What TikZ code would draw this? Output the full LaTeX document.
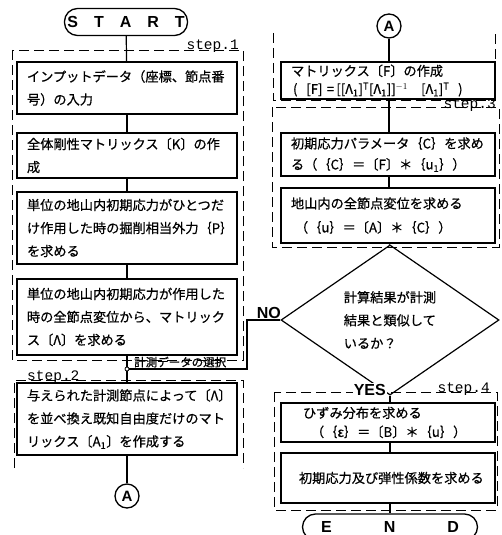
\documentclass[tikz,border=0pt]{standalone}
\usepackage{fontspec}
\usetikzlibrary{shapes.geometric,calc}
\newfontfamily\jp[FakeBold=0.6]{Noto Sans CJK JP}
\newfontfamily\hv{Liberation Sans}
\newfontfamily\mono{Liberation Mono}
\newcommand\jpsz[1]{\jp\fontsize{13.2}{#1}\selectfont}
\tikzset{
  box/.style={draw, line width=1.3pt, minimum width=220pt, text width=200pt, align=left, inner xsep=10pt, inner ysep=0pt, font=\jpsz{23}},
  rbox/.style={box, minimum width=214pt, text width=194pt},
  dsh/.style={dash pattern=on 10pt off 5pt, line width=0.9pt},
  steplabel/.style={font=\mono\fontsize{14.5}{14.5}\selectfont, inner sep=1pt},
  term/.style={draw, line width=1.3pt, rounded corners=13pt, font=\hv\bfseries\fontsize{16}{16}\selectfont, minimum height=27pt, inner sep=0pt},
  conn/.style={draw, line width=1.3pt, circle, minimum size=24pt, inner sep=0pt, font=\hv\bfseries\fontsize{15}{15}\selectfont},
  link/.style={line width=1.2pt},
  lbl/.style={font=\hv\bfseries\fontsize{16}{16}\selectfont, inner sep=1pt}
}
\begin{document}
\begin{tikzpicture}[x=1pt,y=-1pt]
\useasboundingbox (0,0) rectangle (501,535);
% dashed step frames
\draw[dsh] (12,50) rectangle (243,360);
\node[steplabel, anchor=base east] (s1) at (240,50) {step.1};
\draw[dsh] (14,468) -- (14,380) -- (243,380) -- (243,468);
\node[steplabel, anchor=base west] (s2) at (26,380) {step.2};
\draw[dsh] (273,33) -- (273,100) -- (495,100) -- (495,33);
\draw[dsh] (272,107) rectangle (499,247);
\node[steplabel, anchor=base east] (s3) at (497,108) {step.3};
\draw[dsh] (274,392) rectangle (497,510);
\node[steplabel, anchor=base east] (s4) at (491,392) {step.4};
% left column
\node[term, minimum width=123pt] (start) at (126,22) {S\quad T\quad A\quad R\quad T};
\node[box, minimum height=52pt] (b1) at (127,88) {インプットデータ（座標、節点番\\号）の入力};
\node[box, minimum height=45pt] (b2) at (127,155.5) {全体剛性マトリックス〔K〕の作\\成};
\node[box, minimum height=72pt] (b3) at (127,228) {単位の地山内初期応力がひとつだ\\け作用した時の掘削相当外力｛P｝\\を求める};
\node[box, minimum height=76pt] (b4) at (127,317) {単位の地山内初期応力が作用した\\時の全節点変位から、マトリック\\ス〔Λ〕を求める};
\node[box, minimum height=72pt] (b5) at (127,419) {与えられた計測節点によって〔Λ〕\\を並べ換え既知自由度だけのマト\\リックス〔A\textsubscript{1}〕を作成する};
\node[conn] (aL) at (127,496) {A};
\node[circle, draw, line width=0.8pt, fill=white, inner sep=0pt, minimum size=4pt] (jn) at (127,369) {};
\node[font=\jp\fontsize{11.5}{11.5}\selectfont, inner sep=0pt, anchor=base west] (sel) at (134,366.5) {計測データの選択};
% right column
\node[conn] (aR) at (389,26) {A};
\node[rbox, minimum height=37pt, font=\jpsz{18}] (r1) at (388,80.5) {マトリックス〔F〕の作成\\\hspace{2pt}(\ \ [F]\ =\,[[Λ\textsubscript{1}]\textsuperscript{T}[Λ\textsubscript{1}]]\textsuperscript{$-1$}\ \ \ [Λ\textsubscript{1}]\textsuperscript{T}\ \ )};
\node[rbox, minimum height=43pt, font=\jpsz{21}] (r2) at (388,154.5) {初期応力パラメータ｛C｝を求め\\る（｛C｝＝〔F〕＊｛u\textsubscript{1}｝）};
\node[rbox, minimum height=55pt, font=\jpsz{24}] (r3) at (388,215.5) {地山内の全節点変位を求める\\\hspace{4pt}（｛u｝＝〔A〕＊｛C｝）};
\node[diamond, draw, line width=1.2pt, minimum width=218pt, minimum height=122pt, inner sep=0pt, align=left, font=\jpsz{23}] (dia) at (390,320) {計算結果が計測\\結果と類似して\\いるか？};
\node[rbox, minimum height=39pt, font=\jpsz{19}] (r4) at (388,422.5) {\hspace{12pt}ひずみ分布を求める\\\hspace{20pt}（｛ε｝＝〔B〕＊｛u｝）};
\node[rbox, minimum height=50pt] (r5) at (388,478) {\hspace{8pt}初期応力及び弾性係数を求める};
\node[term, minimum width=175pt, minimum height=26pt] (end) at (390,527) {E\hspace{52pt}N\hspace{52pt}D};
\node[lbl, anchor=south east] (no) at (282,320) {NO};
\node[lbl, anchor=south east, fill=white] (yes) at (387,397) {YES};
% connectors
\draw[link] (start) -- (b1);
\draw[link] (b1) -- (b2);
\draw[link] (b2) -- (b3);
\draw[link] (b3) -- (b4);
\draw[link] (b4) -- (jn);
\draw[link] (jn) -- (b5);
\draw[link] (b5) -- (aL);
\coordinate (n1) at (247,320);
\coordinate (n2) at (247,369);
\draw[link] (dia.west) -- (n1) -- (n2) -- (jn.east);
\draw[link] (aR) -- (aR |- r1.north);
\draw[link] (r1.south -| aR) -- (r2.north -| aR);
\draw[link] (r2.south -| aR) -- (r3.north -| aR);
\draw[link] (r3.south -| aR) -- (dia.north);
\draw[link] (dia.south) -- (r4.north -| dia.south);
\draw[link] (r4.south -| dia.south) -- (r5.north -| dia.south);
\draw[link] (r5.south -| dia.south) -- (end.north -| dia.south);
\end{tikzpicture}
\end{document}
